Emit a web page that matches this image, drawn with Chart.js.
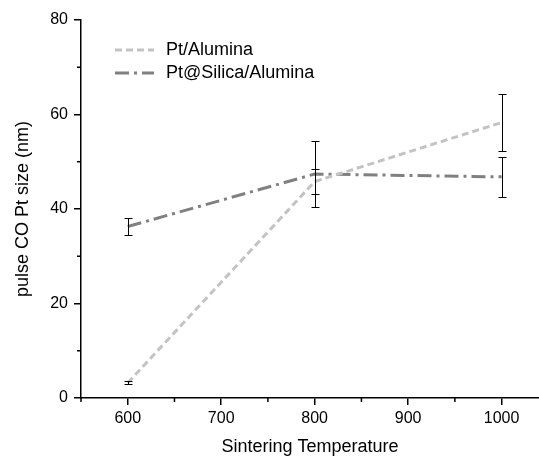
<!DOCTYPE html>
<html lang="en">
<head>
    <meta charset="UTF-8">
    <script src="https://cdn.jsdelivr.net/npm/chart.js"></script>
    <title>Pulse CO Pt size</title>
    <style>
        body { margin: 0; background: #fff; }
        canvas { display: block; }
    </style>
</head>
<body>
    <canvas id="myChart" width="539" height="458"></canvas>

<script>
    // dados
    var temperaturas = [600, 800, 1000]
    var aluminaTamanho = [3.2, 45.8, 58.3]
    var aluminaErro = [0.3, 2.7, 6.0]
    var silicaTamanho = [36.3, 47.4, 46.8]
    var silicaErro = [1.9, 7.0, 4.3]
    var ticksX = [600, 700, 800, 900, 1000]
    var ticksY = [0, 20, 40, 60, 80]
    var minorX = [550, 650, 750, 850, 950]
    var minorY = [10, 30, 50, 70]

    Chart.defaults.font.family = '"Liberation Sans", Arial, sans-serif'
    Chart.defaults.color = '#000'

    function pontos(xs, ys) {
        let lista = []
        for (let i = 0; i < xs.length; i++) {
            lista.push({ x: xs[i], y: ys[i] })
        }
        return lista
    }

    // barras de erro desenhadas pelas escalas do grafico
    const barrasErro = {
        id: 'barrasErro',
        afterDatasetsDraw(chart) {
            const ctx = chart.ctx
            const sx = chart.scales.x
            const sy = chart.scales.y
            ctx.save()
            ctx.strokeStyle = '#000'
            ctx.lineWidth = 1
            chart.data.datasets.forEach(function (ds) {
                ds.data.forEach(function (p, i) {
                    const px = Math.round(sx.getPixelForValue(p.x)) + 0.5
                    const topo = Math.round(sy.getPixelForValue(p.y + ds.erros[i])) + 0.5
                    const base = Math.round(sy.getPixelForValue(p.y - ds.erros[i])) + 0.5
                    ctx.beginPath()
                    ctx.moveTo(px, topo); ctx.lineTo(px, base)
                    ctx.moveTo(px - 4, topo); ctx.lineTo(px + 4, topo)
                    ctx.moveTo(px - 4, base); ctx.lineTo(px + 4, base)
                    ctx.stroke()
                })
            })
            ctx.restore()
        }
    }

    // ticks menores e legenda
    const extras = {
        id: 'extras',
        afterDraw(chart) {
            const ctx = chart.ctx
            const sx = chart.scales.x
            const sy = chart.scales.y
            const area = chart.chartArea
            ctx.save()
            ctx.strokeStyle = '#000'
            ctx.lineWidth = 1.5
            ctx.beginPath()
            minorX.forEach(function (v) {
                const px = sx.getPixelForValue(v)
                ctx.moveTo(px, area.bottom); ctx.lineTo(px, area.bottom + 4)
            })
            minorY.forEach(function (v) {
                const py = sy.getPixelForValue(v)
                ctx.moveTo(area.left, py); ctx.lineTo(area.left - 4, py)
            })
            ctx.stroke()

            // legenda
            ctx.font = '18px "Liberation Sans", Arial, sans-serif'
            ctx.textBaseline = 'middle'
            ctx.fillStyle = '#000'
            chart.data.datasets.forEach(function (ds, i) {
                const ly = 50 + i * 23
                ctx.beginPath()
                ctx.setLineDash(ds.borderDash)
                ctx.strokeStyle = ds.borderColor
                ctx.lineWidth = ds.borderWidth
                ctx.moveTo(115, ly); ctx.lineTo(154, ly)
                ctx.stroke()
                ctx.setLineDash([])
                ctx.fillText(ds.label, 166, ly)
            })
            ctx.restore()
        }
    }

    const dados = {
        datasets: [{
            label: 'Pt/Alumina',
            data: pontos(temperaturas, aluminaTamanho),
            erros: aluminaErro,
            borderColor: '#c3c3c3',
            borderWidth: 3,
            borderDash: [7, 4],
            pointRadius: 0,
            fill: false,
            tension: 0
        }, {
            label: 'Pt@Silica/Alumina',
            data: pontos(temperaturas, silicaTamanho),
            erros: silicaErro,
            borderColor: '#808080',
            borderWidth: 3,
            borderDash: [14, 5, 3, 5],
            pointRadius: 0,
            fill: false,
            tension: 0
        }]
    }

    const config = {
        type: 'line',
        data: dados,
        plugins: [barrasErro, extras],
        options: {
            responsive: false,
            animation: false,
            layout: { padding: { top: 20, right: 0, left: 0, bottom: 0 } },
            plugins: {
                legend: { display: false },
                tooltip: { enabled: false }
            },
            scales: {
                x: {
                    type: 'linear',
                    min: 550,
                    max: 1040,
                    afterBuildTicks: function (scale) {
                        scale.ticks = ticksX.map(v => ({ value: v }))
                    },
                    afterFit: function (scale) { scale.height = 60 },
                    grid: { drawOnChartArea: false, drawTicks: true, tickLength: 7, color: '#000', lineWidth: 1.5 },
                    border: { display: true, color: '#000', width: 1.5 },
                    ticks: { font: { size: 16 }, padding: 4, maxRotation: 0, callback: v => String(v) },
                    title: { display: true, text: 'Sintering Temperature', font: { size: 18 }, padding: { top: 0, bottom: 0 } }
                },
                y: {
                    min: 0,
                    max: 80,
                    afterBuildTicks: function (scale) {
                        scale.ticks = ticksY.map(v => ({ value: v }))
                    },
                    afterFit: function (scale) { scale.width = 81 },
                    grid: { drawOnChartArea: false, drawTicks: true, tickLength: 7, color: '#000', lineWidth: 1.5 },
                    border: { display: true, color: '#000', width: 1.5 },
                    ticks: { font: { size: 16 }, padding: 6, callback: v => String(v) },
                    title: { display: true, text: 'pulse CO Pt size (nm)', font: { size: 18 }, padding: { top: 12, bottom: 0 } }
                }
            }
        }
    }

    let myChart = new Chart(document.getElementById('myChart'), config)
</script>
</body>
</html>
